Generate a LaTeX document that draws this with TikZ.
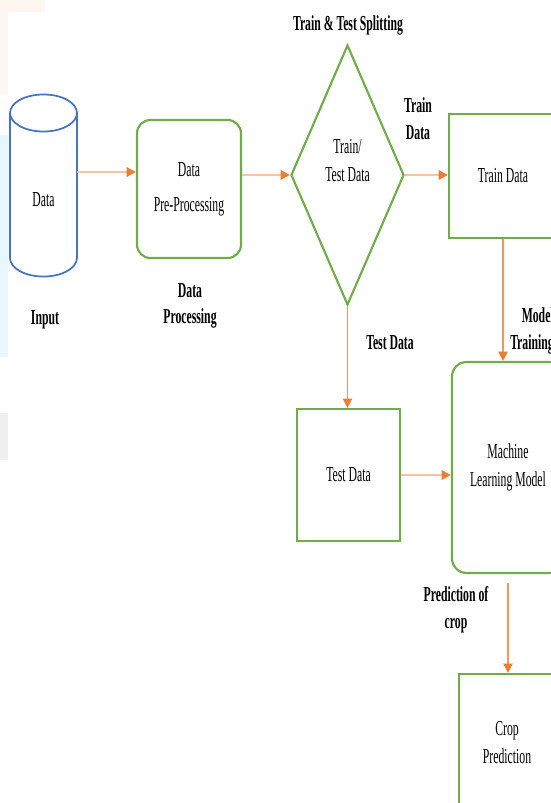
\documentclass[tikz,border=0pt]{standalone}
\usepackage{fontspec}
\setmainfont[FakeStretch=0.55]{Liberation Serif}
\usetikzlibrary{shapes.geometric,arrows.meta}
\definecolor{boxgreen}{RGB}{112,173,71}
\definecolor{dbblue}{RGB}{68,114,196}
\definecolor{arrowor}{RGB}{237,125,49}
\definecolor{lineor}{RGB}{244,196,166}
\begin{document}
\begin{tikzpicture}[x=0.75pt,y=-0.75pt,
  every node/.style={font=\fontsize{16}{21}\selectfont, align=center},
  stepbox/.style={draw=boxgreen, line width=1.6pt, inner sep=0pt},
  roundbox/.style={stepbox, rounded corners=10pt},
  lbl/.style={font=\fontsize{16}{20}\selectfont\bfseries},
  thickarrow/.style={draw=lineor, line width=2pt, -{Triangle[length=7pt,width=7pt,color=arrowor]}},
  thinarrow/.style={draw=arrowor!80, line width=0.8pt, -{Triangle[length=7pt,width=7pt,color=arrowor]}}]
  \useasboundingbox (0,0) rectangle (550,803);
  % Page background
  \fill[arrowor!7] (0,0) rectangle (45,12);
  \fill[arrowor!7] (0,12) rectangle (8,95);
  \fill[cyan!10] (0,135) rectangle (8,357);
  \fill[black!6] (0,413) rectangle (8,460);
  % Input cylinder
  \draw[dbblue, line width=1.3pt] (10,113) -- (10,258)
    arc[start angle=180, end angle=360, x radius=25.1pt, y radius=13.9pt] -- (77,113);
  \draw[dbblue, line width=1.3pt] (43.5,113) ellipse[x radius=25.1pt, y radius=13.9pt];
  \node (data) at (43.5,200) {Data};
  \coordinate (cylR) at (77,172);
  % Boxes
  \node[roundbox, minimum width=78pt, minimum height=103.5pt] (prep) at (189,189) {Data\\[5pt]Pre-Processing};
  \node[diamond, draw=boxgreen, line width=1.6pt, inner sep=0pt, minimum width=84.75pt, minimum height=195pt,
    label={[name=splittxt, yshift=11pt]center:{Train/\\Test Data}}] (split) at (347.5,175) {};
  \node[stepbox, minimum width=81pt, minimum height=93pt] (train) at (503,176) {Train Data};
  \node[stepbox, minimum width=77.25pt, minimum height=99pt] (test) at (348.5,475) {Test Data};
  \node[roundbox, rounded corners=11pt, minimum width=84pt, minimum height=158.25pt] (ml) at (508,467.5) {Machine\\Learning Model};
  \node[stepbox, minimum width=72pt, minimum height=103.5pt] (crop) at (507,743) {Crop\\Prediction};
  % Arrows
  \draw[thickarrow] (cylR) -- (cylR -| prep.west);
  \draw[thickarrow] (prep.east |- split.west) -- (split.west);
  \draw[thickarrow] (split.east) -- (split.east -| train.west);
  \draw[thinarrow] (train.south) -- (train.south |- ml.north);
  \draw[thinarrow] (split.south) -- (split.south |- test.north);
  \draw[thickarrow] (test.east) -- (test.east -| ml.west);
  \draw[thinarrow, shorten <=7pt] (ml.south) -- (ml.south |- crop.north);
  % Stage labels
  \node[lbl] (spltitle) at (348,25) {Train \& Test Splitting};
  \node[lbl] (inlbl) at (45,320) {Input};
  \node[lbl] (proclbl) at (190,306) {Data\\Processing};
  \node[lbl] (trainlbl) at (418,119) {Train\\Data};
  \node[lbl] (testlbl) at (390,343) {Test Data};
  \node[lbl, align=right] (modellbl) at (532,331) {Model\\Training};
  \node[lbl] (predlbl) at (456,610) {Prediction of\\crop};
\end{tikzpicture}
\end{document}
